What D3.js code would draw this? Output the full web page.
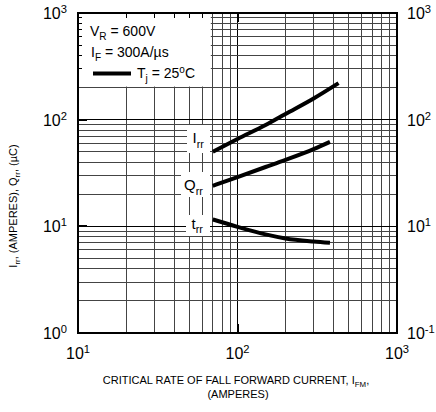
<!DOCTYPE html>
<html lang="en">
<head>
<meta charset="UTF-8">
<title>Irr, Qrr, trr vs IFM</title>
<script src="https://cdn.jsdelivr.net/npm/d3@7"></script>
<style>
    body { margin: 0; background: #fff; }
    svg { display: block; font-family: "Liberation Sans", Arial, sans-serif; }
</style>
</head>
<body>
<svg width="436" height="412"></svg>
<script>
    // values (IFM in A)
    var ifmIrr = [70, 100, 150, 200, 300, 430],
        irr    = [50, 66, 89, 113, 158, 220];
    var ifmQrr = [70, 100, 150, 200, 300, 380],
        qrr    = [24, 29, 36, 42, 53, 62];
    var ifmTrr = [70, 100, 150, 200, 300, 380],
        trr    = [11.6, 9.9, 8.4, 7.7, 7.2, 7.0];

    var xMajor = [10, 100, 1000], xExp = ["1", "2", "3"];
    var yMajor = [1, 10, 100, 1000],
        yExpLeft = ["0", "1", "2", "3"],
        yExpRight = ["-1", "1", "2", "3"];

    var svg = d3.select("svg"),
        mLeft = 78, mTop = 13, w = 319, h = 320;

    var x = d3.scaleLog().domain([10, 1000]).range([mLeft, mLeft + w]),
        y = d3.scaleLog().domain([1, 1000]).range([mTop + h, mTop]);

    function isMajor(v) {
        var l = Math.log10(v);
        return Math.abs(l - Math.round(l)) < 1e-9;
    }

    // text with sub / sup parts
    function rich(g, px, py, parts, size, anchor) {
        var t = g.append("text")
            .attr("x", px).attr("y", py)
            .attr("font-size", size)
            .attr("text-anchor", anchor || "start")
            .attr("fill", "#000");
        var shift = 0;
        parts.forEach(function (p) {
            var dy = 0, fs = size;
            if (p[1] == "sub") { dy = size * 0.3; fs = size * 0.72; }
            if (p[1] == "sup") { dy = -size * 0.38; fs = size * 0.7; }
            t.append("tspan").attr("dy", dy - shift).attr("font-size", fs).text(p[0]);
            shift = dy;
        });
        return t;
    }

    // grid
    var grid = svg.append("g").attr("shape-rendering", "crispEdges");
    x.ticks().forEach(function (v) {
        if (v <= 10 || v >= 1000) return;
        grid.append("line")
            .attr("x1", x(v)).attr("x2", x(v))
            .attr("y1", mTop).attr("y2", mTop + h)
            .attr("stroke", isMajor(v) ? "#000" : "#444")
            .attr("stroke-width", isMajor(v) ? 1.5 : 1);
    });
    y.ticks().forEach(function (v) {
        if (v <= 1 || v >= 1000) return;
        grid.append("line")
            .attr("x1", mLeft).attr("x2", mLeft + w)
            .attr("y1", y(v)).attr("y2", y(v))
            .attr("stroke", isMajor(v) ? "#000" : "#444")
            .attr("stroke-width", isMajor(v) ? 1.5 : 1);
    });

    // legend box hides the grid
    var legend = svg.append("g");
    legend.append("rect")
        .attr("x", mLeft).attr("y", mTop)
        .attr("width", x(70) - 2 - mLeft).attr("height", y(200) - 1 - mTop)
        .attr("fill", "#fff");

    // inner ticks on the left and top borders where the grid is hidden
    var ticks = svg.append("g").attr("shape-rendering", "crispEdges").attr("stroke", "#000");
    x.ticks().forEach(function (v) {
        if (v <= 10 || v >= 70) return;
        ticks.append("line").attr("x1", x(v)).attr("x2", x(v))
            .attr("y1", mTop).attr("y2", mTop + 5);
    });
    y.ticks().forEach(function (v) {
        if (v <= 200 || v >= 1000) return;
        ticks.append("line").attr("x1", mLeft).attr("x2", mLeft + 4)
            .attr("y1", y(v)).attr("y2", y(v));
    });
    [100].forEach(function (v) {
        ticks.append("line").attr("x1", x(v)).attr("x2", x(v))
            .attr("y1", mTop + h - 9).attr("y2", mTop + h).attr("stroke-width", 2);
        ticks.append("line").attr("x1", x(v)).attr("x2", x(v))
            .attr("y1", mTop).attr("y2", mTop + 9).attr("stroke-width", 2);
    });
    [10, 100].forEach(function (v) {
        ticks.append("line").attr("x1", mLeft).attr("x2", mLeft + 9)
            .attr("y1", y(v)).attr("y2", y(v)).attr("stroke-width", 2);
    });

    rich(legend, 90, 36, [["V"], ["R", "sub"], [" = 600V"]], 14);
    rich(legend, 91, 57, [["I"], ["F", "sub"], [" = 300A/\u00b5s"]], 14);
    legend.append("line")
        .attr("x1", 93).attr("x2", 131)
        .attr("y1", 73.5).attr("y2", 73.5)
        .attr("stroke", "#000").attr("stroke-width", 4);
    var tj = rich(legend, 137, 78, [["T"], ["j", "sub"], [" = 25"]], 14);
    tj.append("tspan").attr("dy", -5).attr("font-size", 10).text("o");
    tj.append("tspan").attr("dy", 5).attr("font-size", 14).text("C");

    // curve labels on white patches
    var labels = [
        {parts: [["I"], ["rr", "sub"]], bx: 187, by: 125, bw: 23, bh: 28, tx: 192.5, ty: 143},
        {parts: [["Q"], ["rr", "sub"]], bx: 181, by: 172, bw: 29, bh: 25, tx: 184, ty: 190},
        {parts: [["t"], ["rr", "sub"]], bx: 186, by: 215, bw: 24, bh: 21, tx: 191.5, ty: 228.5}
    ];
    var lab = svg.append("g");
    labels.forEach(function (d) {
        lab.append("rect").attr("x", d.bx).attr("y", d.by)
            .attr("width", d.bw).attr("height", d.bh).attr("fill", "#fff");
        rich(lab, d.tx, d.ty, d.parts, 15);
    });

    // curves
    var line = d3.line()
        .x(function (d) { return x(d[0]); })
        .y(function (d) { return y(d[1]); })
        .curve(d3.curveMonotoneX);

    [[ifmIrr, irr], [ifmQrr, qrr], [ifmTrr, trr]].forEach(function (s) {
        svg.append("path")
            .datum(d3.zip(s[0], s[1]))
            .attr("d", line)
            .attr("fill", "none")
            .attr("stroke", "#000")
            .attr("stroke-width", 4);
    });

    // frame
    svg.append("rect")
        .attr("x", mLeft).attr("y", mTop)
        .attr("width", w).attr("height", h)
        .attr("fill", "none").attr("stroke", "#000").attr("stroke-width", 2);

    // tick labels
    var tl = svg.append("g");
    xMajor.forEach(function (v, i) {
        rich(tl, x(v), 359, [["10"], [xExp[i], "sup"]], 16, "middle");
    });
    yMajor.forEach(function (v, i) {
        rich(tl, 67, y(v) + 6, [["10"], [yExpLeft[i], "sup"]], 16, "end");
        rich(tl, 407, y(v) + 6, [["10"], [yExpRight[i], "sup"]], 16, "start");
    });

    // axis titles
    rich(svg, 236, 384, [["CRITICAL RATE OF FALL FORWARD CURRENT, I"], ["FM", "sub"], [","]], 11, "middle");
    svg.append("text").attr("x", 238).attr("y", 398)
        .attr("font-size", 11).attr("text-anchor", "middle").text("(AMPERES)");

    var yt = svg.append("g").attr("transform", "translate(17,206) rotate(-90)");
    rich(yt, 0, 0, [["I"], ["rr", "sub"], [", (AMPERES), Q"], ["rr", "sub"], [", (\u00b5C)"]], 11, "middle");
</script>
</body>
</html>
